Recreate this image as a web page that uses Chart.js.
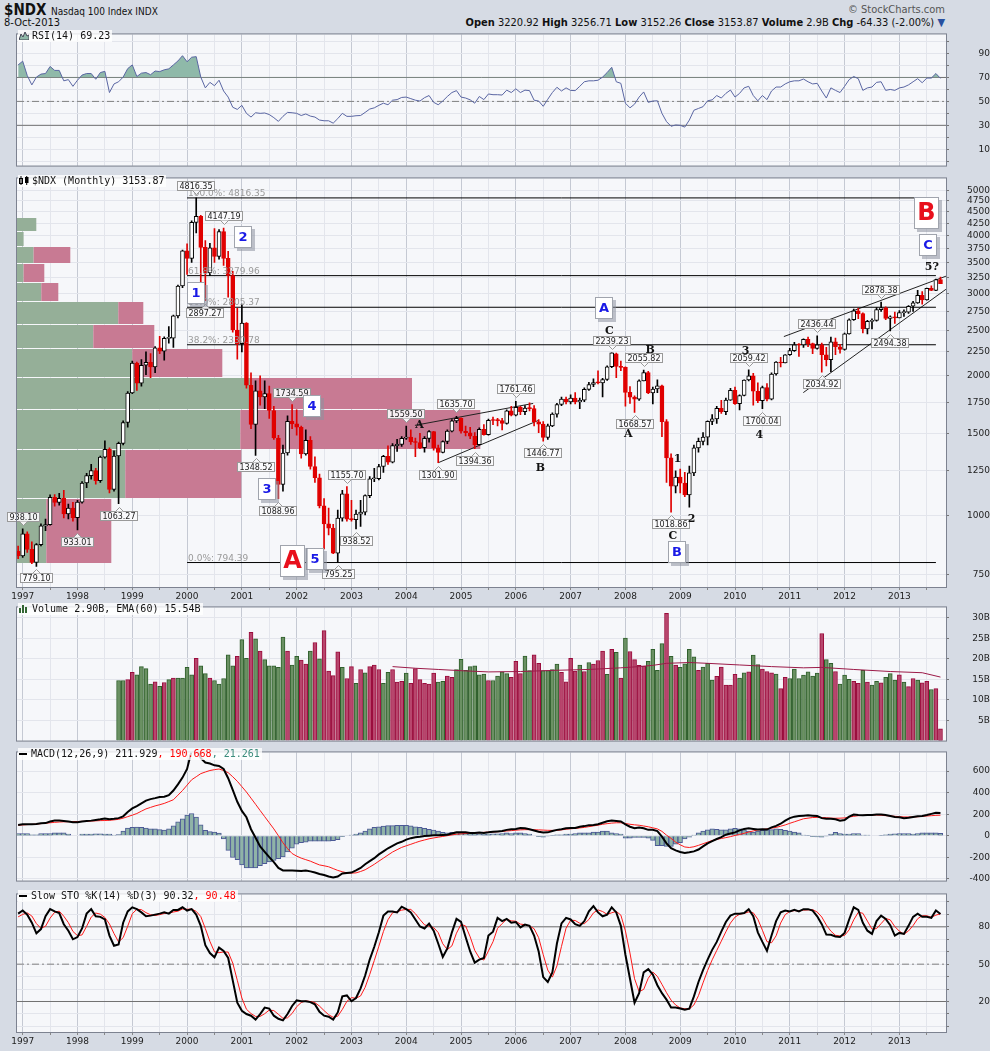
<!DOCTYPE html>
<html><head><meta charset="utf-8"><title>$NDX Nasdaq 100 Index</title>
<script src="https://cdn.jsdelivr.net/npm/chart.js@4.4.1/dist/chart.umd.min.js"></script>
<style>
html,body{margin:0;padding:0}
body{width:990px;height:1051px;background:#d6dbe4;position:relative;overflow:hidden}
canvas{position:absolute;left:0}
.hd{position:absolute;white-space:nowrap;color:#111;font-family:"Liberation Sans Narrow","DejaVu Sans Condensed",sans-serif}
.leg{position:absolute;left:18px;white-space:nowrap;font:10px "DejaVu Sans Mono",monospace;color:#111;background:rgba(255,255,255,.8);line-height:12px;padding:0 2px 0 1px;z-index:5}
.leg svg{vertical-align:-1px;margin-right:3px}
</style></head>
<body>
<div class="hd" style="left:4px;top:2px;font-size:15px;font-weight:bold;line-height:16px">$NDX <span style="font-size:10px;font-weight:normal">Nasdaq 100 Index INDX</span></div>
<div class="hd" style="left:4px;top:17px;font-size:11px;line-height:12px">8-Oct-2013</div>
<div class="hd" style="right:45px;top:4px;font-size:11px;line-height:12px;color:#555">© StockCharts.com</div>
<div class="hd" style="right:45px;top:16px;font-size:11px;line-height:13px"><b>Open</b> 3220.92 <b>High</b> 3256.71 <b>Low</b> 3152.26 <b>Close</b> 3153.87 <b>Volume</b> 2.9B <b>Chg</b> -64.33 (-2.00%) <span style="color:#2850a0">▼</span></div>

<canvas id="cRsi"></canvas>
<canvas id="cPrice"></canvas>
<canvas id="cVol"></canvas>
<canvas id="cMacd"></canvas>
<canvas id="cSto"></canvas>

<div class="leg" style="top:30px"><svg width="10" height="9"><path d="M0 9 L2 3 L4 6 L6 1 L8 5 L10 4 L10 9 Z" fill="#8fb9a9" stroke="#445" stroke-width="1"/></svg>RSI(14) 69.23</div>
<div class="leg" style="top:175px"><svg width="10" height="9"><rect x="0.5" y="2.5" width="3" height="5" fill="#fff" stroke="#000"/><line x1="2" y1="0" x2="2" y2="9" stroke="#000"/><rect x="6" y="1" width="3.5" height="6" fill="#000"/><line x1="7.7" y1="0" x2="7.7" y2="9" stroke="#000"/></svg>$NDX (Monthly) 3153.87</div>
<div class="leg" style="top:603px"><svg width="10" height="9"><rect x="0" y="4" width="2" height="5" fill="#336633"/><rect x="3" y="1" width="2" height="8" fill="#336633"/><rect x="6" y="3" width="2" height="6" fill="#336633"/></svg>Volume 2.90B, EMA(60) 15.54B</div>
<div class="leg" style="top:748px"><svg width="9" height="9"><rect x="0" y="4" width="8" height="2" fill="#000"/></svg>MACD(12,26,9) 211.929<span style="color:#f00">, 190.668</span><span style="color:#3c8c7c">, 21.261</span></div>
<div class="leg" style="top:890px"><svg width="9" height="9"><rect x="0" y="4" width="8" height="2" fill="#000"/></svg>Slow STO %K(14) %D(3) 90.32<span style="color:#f00">, 90.48</span></div>

<script>
// ---------------- DATA (monthly, index 0 = Dec 1996 ... 202 = Oct 2013) ----------------
const years = ['1997','1998','1999','2000','2001','2002','2003','2004','2005','2006','2007','2008','2009','2010','2011','2012','2013'];

const opens = [840,
821,916,848,795,868,952,958,1097,1069,1091,1010,1040,
991,1071,1177,1221,1251,1191,1337,1390,1140,1345,1432,1587,
1836,2128,1927,2106,2137,2090,2297,2257,2406,2408,2688,3116,
3708,3570,4267,4398,3773,3324,3764,3609,4078,3571,3282,2507,
2342,2593,1908,1573,1855,1800,1830,1684,1470,1168,1365,1596,
1577,1550,1359,1453,1277,1208,1051,962,942,832,989,1116,
984,982,1009,1019,1106,1202,1202,1277,1342,1304,1416,1424,
1468,1476,1442,1438,1402,1467,1517,1400,1369,1445,1521,1600,
1621,1520,1509,1483,1422,1534,1494,1605,1603,1602,1579,1682,
1645,1710,1675,1704,1700,1592,1575,1475,1561,1654,1735,1782,
1757,1790,1757,1772,1870,1915,1934,1930,1963,2091,2228,2093,
2085,1842,1799,1782,1950,2032,1837,1873,1902,1594,1333,1158,
1212,1176,1109,1237,1400,1446,1477,1596,1616,1702,1675,1773,
1860,1741,1814,1958,2000,1852,1769,1887,1781,2017,2140,2130,
2218,2264,2330,2328,2395,2344,2290,2330,2218,2165,2366,2308,
2278,2460,2638,2755,2718,2521,2616,2630,2773,2799,2655,2677,
2661,2731,2739,2819,2867,2975,2910,3079,3049,3218];

const highs = [862,
938.1,925,880,872,962,985,1110,1112,1118,1135,1060,1070,
1080,1185,1235,1290,1265,1345,1450,1400,1380,1440,1600,1850,
2150,2140,2165,2250,2230,2310,2430,2425,2550,2700,3130,3720,
3840,4300,4816.35,4420,3900,3850,4140,4120,4147.19,3700,3350,2790,
2850,2600,2030,1950,2000,1950,1900,1720,1490,1420,1640,1734.59,
1690,1560,1530,1480,1340,1230,1090,1040,960,1030,1135,1155.7,
1080,1030,1080,1110,1215,1265,1290,1350,1415,1430,1460,1480,
1559.5,1530,1470,1505,1480,1525,1520,1420,1450,1530,1610,1635.7,
1625,1560,1550,1510,1545,1570,1615,1630,1620,1620,1690,1720,
1761.46,1720,1725,1750,1725,1610,1595,1575,1665,1745,1800,1800,
1820,1840,1790,1885,1935,1970,2050,1975,2100,2239.23,2236,2150,
2090,1895,1810,1960,2055.82,2045,1890,1960,1910,1610,1360,1250,
1260,1240,1280,1420,1470,1510,1600,1650,1720,1770,1790,1880,
1890,1820,1960,2059.42,2025,1930,1900,1925,2030,2145,2190,2220,
2290,2360,2345,2400,2420,2350,2436.44,2350,2300,2420,2410,2335,
2470,2650,2780,2790,2730,2630,2650,2800,2878.38,2810,2690,2740,
2760,2770,2830,2890,3050,3030,3085,3120,3225,3256.71];

const lows = [810,
815,835,790,779.1,862,930,955,1050,1055,990,985,975,
933.01,1065,1150,1200,1170,1180,1330,1120,1130,1063.27,1420,1550,
1830,1860,1900,2010,1980,2030,2230,2160,2350,2300,2660,3090,
3300,3500,4050,3100,2897.27,3280,3500,3560,3450,2950,2480,2170,
2250,1880,1540,1348.52,1730,1700,1620,1460,1088.96,1130,1350,1540,
1490,1330,1350,1260,1180,1040,850,910,830,795.25,975,975,
975,938.52,950,1005,1095,1185,1195,1240,1290,1300,1375,1410,
1460,1425,1340,1395,1370,1440,1385,1301.9,1365,1430,1515,1585,
1505,1485,1465,1394.36,1420,1490,1490,1570,1560,1530,1575,1640,
1640,1650,1650,1680,1560,1510,1446.77,1460,1555,1630,1725,1740,
1740,1740,1700,1760,1860,1895,1920,1800,1955,2080,1980,2050,
1720,1745,1668.57,1770,1950,1830,1740,1840,1480,1180,1018.86,1120,
1120,1100,1043.87,1220,1370,1420,1420,1570,1580,1660,1650,1770,
1735,1690,1810,1950,1730,1750,1700.04,1765,1775,2005,2090,2130,
2210,2255,2200,2300,2310,2230,2280,2034.92,2100,2040,2220,2235,
2270,2455,2630,2650,2470,2460,2520,2620,2750,2640,2494.38,2590,
2660,2680,2720,2750,2860,2850,2905,3045,3045,3152.26];

const closes = [821,
916,848,795,868,952,958,1097,1069,1091,1010,1040,991,
1071,1177,1221,1251,1191,1337,1390,1140,1345,1432,1587,1836,
2128,1927,2106,2137,2090,2297,2257,2406,2408,2688,3116,3708,
3570,4267,4398,3773,3324,3764,3609,4078,3571,3282,2507,2342,
2593,1908,1573,1855,1800,1830,1684,1470,1168,1365,1596,1577,
1550,1359,1453,1277,1208,1051,962,942,832,989,1116,984,
982,1009,1019,1106,1202,1202,1277,1342,1304,1416,1424,1468,
1476,1442,1438,1402,1467,1517,1400,1369,1445,1521,1600,1621,
1520,1509,1483,1422,1534,1494,1605,1603,1602,1579,1682,1645,
1710,1675,1704,1700,1592,1575,1475,1561,1654,1735,1782,1757,
1790,1757,1772,1870,1915,1934,1930,1963,2091,2239,2093,2085,
1842,1799,1782,1950,2032,1837,1873,1902,1594,1333,1158,1212,
1176,1109,1237,1400,1446,1477,1596,1616,1702,1675,1773,1860,
1741,1814,1958,2000,1852,1769,1887,1781,2017,2140,2130,2218,
2264,2330,2328,2395,2344,2290,2330,2218,2165,2366,2308,2278,
2460,2638,2755,2718,2521,2616,2630,2773,2799,2655,2677,2661,
2731,2739,2819,2867,2975,2910,3079,3049,3218,3153.87];

// Volume in billions (starts Oct 1998)
const volume = [null,null,null,null,null,null,null,null,null,null,null,null,null,null,null,null,null,null,null,null,null,null,
14.7,14.7,14.9,16.7,16.1,18.1,17.6,13.8,14.4,13.3,14.2,14.9,15.3,15.3,15.3,
17.9,16.1,20.1,18.3,16.4,15.3,14.7,13.8,15.2,21.0,18.3,20.6,
24.7,20.1,26.5,24.9,21.9,19.8,18.3,18.3,17.9,25.3,21.9,18.5,
20.6,19.7,18.7,21.9,24.0,20.0,26.9,17.0,15.9,21.7,17.9,15.2,
18.1,14.0,17.4,16.6,18.1,18.5,17.4,14.0,16.7,17.4,14.3,14.5,
16.5,14.0,17.6,14.9,14.0,13.8,16.5,14.3,14.5,15.8,15.5,17.4,
19.9,17.2,18.1,18.3,16.1,16.3,14.7,14.7,15.8,16.8,16.4,15.5,
19.4,16.4,20.7,17.1,21.0,18.9,17.1,17.1,17.4,18.7,16.7,14.4,
20.1,17.0,18.5,16.9,19.1,18.7,19.6,21.9,16.2,22.3,21.6,15.3,
25.1,21.8,19.8,18.4,18.2,19.4,22.3,17.2,23.7,31.1,20.6,18.5,
17.9,18.8,22.3,20.5,17.2,18.0,18.9,14.8,15.7,18.0,13.6,13.6,
16.2,15.3,16.6,16.8,20.9,18.6,17.5,16.9,16.6,16.3,12.7,15.5,
15.2,17.5,15.2,16.0,16.8,15.8,16.5,26.2,19.8,18.9,16.9,13.8,
16.0,15.0,14.5,14.0,17.2,14.3,13.6,14.5,14.1,15.5,16.4,14.8,
16.1,14.3,13.2,15.2,14.8,14.1,14.5,12.5,12.7,2.9];

const volEmaIdx = [82,87,92,97,103,110,118,125,132,136,139,142,147,151,158,165,172,176,183,191,198,202];
const volEma    = [18.1,17.7,17.4,17.1,16.8,16.9,17.2,17.4,17.8,18.1,18.4,18.9,19.1,18.9,18.5,18.1,17.8,17.9,17.4,16.9,16.6,15.54];

const rsi = [80.5,83.6,71.6,63.8,70.3,72.8,73.3,79.2,75.9,75.9,
67.2,68.2,62.6,67.7,72.0,73.3,73.3,68.5,74.1,75.1,
57.4,64.6,66.4,70.3,77.4,80.5,70.8,73.6,74.1,72.3,
75.4,74.9,76.4,77.2,80.5,83.8,88.2,83.1,86.9,87.4,
70.3,61.3,65.9,63.1,67.7,58.7,53.6,45.1,43.3,46.7,
40.0,36.9,40.5,40.0,40.3,39.0,36.4,33.3,37.5,40.8,
40.5,40.0,38.2,39.5,37.7,36.9,34.4,33.8,33.8,31.8,
35.6,40.0,37.5,37.5,38.0,38.2,40.8,43.6,44.6,46.7,
48.5,47.2,51.0,51.5,53.3,53.6,52.3,51.0,50.3,53.1,
54.9,49.2,47.2,50.3,54.1,57.4,59.0,53.6,52.8,51.3,
48.5,54.1,51.5,56.2,55.6,55.6,55.3,59.4,57.4,60.5,
57.4,59.4,59.0,51.0,50.3,45.9,51.8,57.4,61.8,58.7,
61.3,59.2,59.0,62.6,66.4,67.2,67.2,67.7,70.3,74.1,
78.5,66.4,65.1,48.5,44.6,47.7,53.6,57.9,49.2,50.3,
50.5,40.0,33.1,29.2,30.3,30.0,28.5,34.4,42.6,44.1,
45.6,50.5,51.3,54.9,52.8,56.7,59.5,53.6,56.7,61.3,
62.6,54.9,50.5,54.9,51.5,58.7,62.0,62.0,64.6,66.4,
67.2,67.2,68.7,66.4,64.6,65.1,58.7,52.8,61.3,59.2,
57.4,62.6,68.2,70.8,69.0,59.2,61.3,62.0,65.9,66.4,
59.2,60.0,59.2,61.3,62.0,63.8,66.4,69.0,65.6,69.5,
69.5,73.3,69.23];

const macd = [100,106,106,106,109,115,117,132,140,140,
137,132,126,126,132,137,140,146,152,160,
152,157,163,180,220,254,274,300,326,340,
349,360,363,377,420,477,540,620,790,820,
720,680,671,654,649,620,534,425,315,230,
171,60,-20,-100,-150,-200,-245,-300,-323,-323,
-323,-326,-329,-323,-332,-343,-357,-366,-380,-389,
-380,-352,-346,-343,-323,-300,-266,-237,-209,-174,
-146,-117,-94,-71,-57,-37,-23,-14,-9,-3,
0,3,3,6,9,20,31,31,31,26,
26,29,26,31,37,40,43,54,60,63,
71,69,60,49,37,29,31,43,54,60,
69,71,71,83,89,97,100,106,120,134,
140,137,132,106,83,69,77,69,54,54,
43,-9,-71,-117,-137,-152,-160,-154,-146,-129,
-100,-71,-51,-31,-14,9,20,31,49,63,
69,63,57,60,57,77,91,111,140,163,
177,183,186,189,186,183,163,157,157,152,
140,146,177,197,192,189,192,192,197,197,
192,183,174,172,163,166,174,180,183,192,
203,214,211.929];

const macdSignal = [97,100,103,105,108,112,116,120,124,127,
129,130,131,132,133,134,136,138,140,141,
143,147,152,163,177,191,206,228,249,263,
277,288,300,317,334,377,420,470,520,548,
577,592,606,614,620,606,586,548,506,456,
406,349,292,234,177,120,63,0,-66,-120,
-166,-190,-209,-223,-237,-255,-272,-280,-289,-306,
-323,-335,-346,-348,-346,-333,-317,-292,-266,-237,
-209,-180,-152,-130,-109,-94,-80,-65,-51,-40,
-29,-21,-14,-7,0,7,14,17,20,23,
26,28,31,33,34,37,40,44,47,51,
54,56,56,55,54,52,50,49,49,54,
60,64,68,72,77,84,91,98,106,112,
117,120,120,113,106,101,97,90,83,73,
63,40,5,-25,-60,-85,-105,-110,-103,-90,
-75,-60,-45,-35,-26,-18,-9,2,11,22,
34,44,54,58,63,70,77,88,100,115,
129,143,157,163,169,170,169,167,163,162,
163,165,174,180,186,188,192,192,192,190,
186,184,180,177,174,174,174,176,180,183,
186,189,190.668];

const macdHist = [20,20,20,9,9,20,20,20,26,26,
26,14,0,0,14,14,14,17,17,14,
14,6,11,43,71,77,80,77,71,63,
63,57,51,63,91,129,157,191,206,172,
100,50,37,34,25,-30,-137,-203,-223,-272,
-300,-300,-300,-280,-260,-243,-229,-214,-197,-152,
-117,-80,-66,-60,-51,-51,-51,-51,-51,-46,
-37,-9,0,6,14,26,43,63,77,83,
89,94,94,97,97,97,91,83,77,69,
60,51,43,31,26,31,34,34,26,20,
20,17,14,14,17,17,20,26,20,26,
26,20,14,0,-9,-14,-3,3,9,9,
14,14,20,26,26,26,34,34,43,43,
26,20,14,-23,-23,-17,-17,-17,-23,-43,
-94,-94,-100,-100,-80,-66,-31,-14,6,26,
43,54,63,60,54,54,63,69,63,54,
43,34,43,49,54,57,63,60,49,43,
34,26,6,3,-9,-11,-14,-3,14,31,
20,14,14,20,20,6,6,0,0,3,
9,14,17,20,20,20,14,20,26,26,
26,26,21.261];

const stoK = [90.6,93.1,89.8,83.3,74.8,78.2,88.5,94.2,92.4,91.1,
82.1,76.9,70,71.8,78.7,90.6,94.2,88.5,88,85.9,
73,64.8,65.8,83.3,92.4,95.7,94.2,91.6,88.5,89,
89.8,90.6,91.6,90.6,93.6,93.6,95.7,93.1,94.2,89.8,
80.8,65.3,58.9,55.5,63.3,60.7,55,37,19,12.5,
9.9,8.6,5.5,9.9,15.1,14.3,8.6,6.1,4.8,9.9,
16.4,21,20.2,20.2,19.5,17.7,11.7,8.6,7.8,5.5,
11.2,24.1,24.9,20.2,22.8,30.6,40.9,53.7,64,75.6,
89,92.4,92.4,91.6,96.2,94.2,91.6,85.9,80.3,78.7,
82.6,76.9,66.6,55.8,62.7,75.6,86.4,83.9,71.8,60.2,
51.2,53.7,55,73,76.1,87.2,84.6,86.4,83.3,83.9,
79.5,81.8,80.8,73,60.2,39.6,35.7,43.4,66.6,82.8,
87.2,85.9,82.1,80.8,84.6,92.4,96.7,91.6,88.5,89.8,
95.7,91.6,80.8,57.6,38.3,19,26.7,43.4,46,41.6,
33.1,26.7,21.5,15.1,15.1,14.3,13.3,14.3,24.1,35.7,
45.2,53.7,61.5,67.9,76.1,83.9,89,90.6,90.6,91.1,
94.2,88.5,75.6,67.9,60.7,73,84.6,91.6,93.1,92.4,
93.6,92.4,94.2,94.2,93.1,88.5,82.1,73.8,73.6,72.3,
71.8,75.1,85.9,95.7,93.6,83.3,76.9,74.3,84.6,89,
86.4,81.3,73,75.1,74.3,80.8,88,90.6,88,88,
87.2,93.1,90.32];

const stoD = [88,90,91.2,88.7,82.6,78.8,80.5,87,91.7,92.6,
88.5,83.4,76.3,72.9,73.5,80.4,87.8,91.1,90.2,87.5,
82.3,74.6,67.9,71.3,80.5,90.5,94.1,93.8,91.4,89.7,
89.1,89.8,90.7,90.9,91.9,92.6,94.3,94.1,94.3,92.4,
88.3,78.6,68.3,59.9,59.2,59.8,59.7,50.9,37,22.8,
13.8,10.3,8,8,10.2,13.1,12.7,9.7,6.5,6.9,
10.4,15.8,19.2,20.5,20,19.1,16.3,12.7,9.4,7.3,
8.2,13.6,20.1,23.1,22.6,24.5,31.4,41.7,52.9,64.4,
76.2,85.7,91.3,92.1,93.4,94,94,90.6,85.9,81.6,
80.5,79.4,75.4,66.4,61.7,64.7,74.9,82,80.7,72,
61.1,55,53.3,60.6,68,78.8,82.6,86.1,84.8,84.5,
82.2,81.7,80.7,78.5,71.3,57.6,45.2,39.6,48.6,64.3,
78.9,85.3,85.1,82.9,82.5,85.9,91.2,93.6,92.3,90,
91.3,92.4,89.4,76.7,58.9,38.3,28,29.7,38.7,43.7,
40.2,33.8,27.1,21.1,17.2,14.8,14.2,14,17.2,24.7,
35,44.9,53.5,61,68.5,76,83,87.8,90.1,90.8,
92,91.3,86.1,77.3,68.1,67.2,72.8,83.1,89.8,92.4,
93,92.8,93.4,93.6,93.8,91.9,87.9,81.5,76.5,73.2,
72.6,73.1,77.6,85.6,91.7,90.9,84.6,78.2,78.6,82.6,
86.7,85.6,80.2,76.5,74.1,76.7,81,86.5,88.9,88.9,
87.7,89.4,90.48];

// Volume-by-price zones (price bands, up/down volume in relative units)
const vbpLow  = [4096,3797,3495,3185,2890,2583,2292,1990,1694,1393,1092,791];
const vbpHigh = [4385,4096,3797,3495,3185,2890,2583,2292,1990,1694,1393,1092];
const vbpUp   = [19.3,6.6,16.6,6.6,24.3,101.3,76.3,115.3,235,223.3,108.3,29.3];
const vbpDown = [0,0,36.7,20.7,17,25,61,90,160,240,116,65];

// Fibonacci retracement levels
const fibLevels = [4816.35,3279.96,2805.37,2330.78,794.39];
const fibTexts  = ['100.0%: 4816.35','61.8%: 3279.96','50.0%: 2805.37','38.2%: 2330.78','0.0%: 794.39'];
const fibStart = 37, fibEnd = 201;

// Trend lines: [x1, price1, x2, price2]
const trendLines = [[86.9,1565,112.8,1744],[92.0,1301,113.9,1603],[167.7,2427,203.2,3271],[171.96,1840,203.2,3066]];

// Value callouts: month index, price, above/below
const calloutIdx   = [1,4,13,22,39,45,41,52,57,60,70,72,74,85,92,96,100,109,115,130,135,137,143,160,163,175,176,189,191];
const calloutPrice = [938.10,779.10,933.01,1063.27,4816.35,4147.19,2897.27,1348.52,1088.96,1734.59,795.25,1155.70,938.52,1559.50,1301.90,1635.70,1394.36,1761.46,1446.77,2239.23,1668.57,2055.82,1018.86,2059.42,1700.04,2436.44,2034.92,2878.38,2494.38];
const calloutPos   = ['a','b','b','b','a','a','b','b','b','a','b','a','b','a','b','a','b','a','b','a','b','a','b','a','b','a','b','a','b'];

// Elliott wave boxes: text, month index, price, style
const waveBoxes = [['1',38.95,3012,'b'],['2',49.25,3967,'b'],['3',54.4,1141,'b'],['4',64.25,1719,'b'],['5',65.0,807,'b'],
  ['A',60.1,799,'R'],['A',128.4,2800,'b'],['B',198.9,4461,'R'],['C',199.2,3816,'b'],['B',144.2,837,'b']];
// Plain wave labels
const waveTexts = [['A',87.9,1564],['B',114.4,1266],['C',129.5,2494],['B',138.4,2273],['A',133.6,1497],['1',144.4,1325],['2',147.5,984],['C',143.4,903],['3',159.3,2255],['4',162.3,1490],['5?',200.1,3424]];

const priceTicks = [750,1000,1250,1500,1750,2000,2250,2500,2750,3000,3250,3500,3750,4000,4250,4500,4750,5000];

// ---------------- sanity ----------------
[opens,highs,lows,closes,volume,rsi,macd,macdSignal,macdHist,stoK,stoD].forEach((a,k)=>{ if(a.length!==203) throw new Error('array '+k+' length '+a.length); });

// ---------------- helpers ----------------
const X_MIN = -0.248, X_MAX = 203.21;
const FONT = 'DejaVu Sans';

const framePlugin = { id:'frame',
  beforeDraw(c){ const a=c.chartArea, ctx=c.ctx; ctx.save(); ctx.fillStyle='#f6f7fa'; ctx.fillRect(a.left,a.top,a.right-a.left,a.bottom-a.top); ctx.restore(); },
  afterDraw(c){ const a=c.chartArea, ctx=c.ctx; ctx.save(); ctx.strokeStyle='#7d8290'; ctx.lineWidth=1; ctx.strokeRect(a.left-0.5,a.top-0.5,a.right-a.left+1,a.bottom-a.top+1); ctx.restore(); }
};

function xScale(showLabels){
  return { type:'linear', min:X_MIN, max:X_MAX, position:'bottom', offset:false,
    afterBuildTicks(s){ const t=[]; for(let v=1; v<=X_MAX; v+=6) t.push({value:v}); s.ticks=t; },
    afterFit(s){ s.height = showLabels ? 15 : 0; },
    border:{display:false},
    grid:{ offset:false, color:c => (c.tick && (c.tick.value-1)%12===0) ? '#c5c9d3' : '#e3e5ec', drawTicks:showLabels, tickLength:3, tickColor:'#888' },
    ticks:{ display:showLabels, autoSkip:false, maxRotation:0, padding:1, color:'#222', font:{family:FONT,size:9},
      callback:v => ((v-1)%12===0) ? years[(v-1)/12] : '' }
  };
}
function yAxis(min,max,tickVals,labelFn,extra){
  return Object.assign({ position:'right', min, max,
    afterFit(s){ s.width = 44; },
    afterBuildTicks(s){ s.ticks = tickVals.map(v=>({value:v})); },
    border:{display:false},
    grid:{ color:'#e3e5ec', tickLength:3, tickColor:'#777' },
    ticks:{ color:'#222', padding:1, crossAlign:'far', autoSkip:false, font:{family:FONT,size:9}, callback:v=>labelFn(v) }
  }, extra||{});
}
function refLine(v,color,dash){
  return { type:'line', data:[{x:X_MIN,y:v},{x:X_MAX,y:v}], borderColor:color, borderWidth:1, borderDash:dash||[], pointRadius:0, order:20, xAxisID:'x', yAxisID:'y' };
}
function makeChart(id, areaTop, areaBottom, withLabels, cfg){
  const cv = document.getElementById(id);
  const h = (areaBottom-areaTop+1) + (withLabels ? 15 : 1);
  cv.width = 990; cv.height = h;
  cv.style.width = '990px'; cv.style.height = h+'px'; cv.style.top = (areaTop-1)+'px';
  cfg.options = Object.assign({ responsive:false, animation:false, devicePixelRatio:1,
    layout:{padding:{left:17,right:0,top:1,bottom:withLabels?0:1}},
    plugins:{legend:{display:false}, tooltip:{enabled:false}} }, cfg.options);
  cfg.plugins = (cfg.plugins||[]).concat([framePlugin]);
  return new Chart(cv, cfg);
}
const seq = a => a.map((v,i)=> v===null ? null : {x:i, y:v}).filter(p=>p);
const upCandle = closes.map((c,i)=> c >= opens[i]);
const upMonth = closes.map((c,i)=> i===0 ? true : c >= closes[i-1]);

// ---------------- RSI ----------------
makeChart('cRsi', 29, 171, false, {
  type:'line',
  data:{ datasets:[
    { data:seq(rsi), borderColor:'#5a66a3', borderWidth:1, pointRadius:0, order:1,
      fill:{ target:{value:70}, above:'#8fb9a9', below:'rgba(0,0,0,0)' } },
    refLine(70,'#707070'), refLine(30,'#707070'), refLine(50,'#808080',[7,3,2,3])
  ]},
  options:{ scales:{ x:xScale(false), y:yAxis(-3.67,106,[0,10,20,30,40,50,60,70,80,90,100], v=>[10,30,50,70,90].includes(v)?String(v):'') } }
});

// ---------------- PRICE ----------------
const priceAnnot = { id:'priceAnnot',
  beforeDatasetsDraw(c){
    const {ctx, scales:{y, xv}} = c;
    ctx.save();
    for(let k=0;k<vbpLow.length;k++){
      const yt = Math.round(y.getPixelForValue(vbpHigh[k])), yb = Math.round(y.getPixelForValue(vbpLow[k]));
      const x0 = xv.getPixelForValue(0), xg = xv.getPixelForValue(vbpUp[k]), xr = xv.getPixelForValue(vbpUp[k]+vbpDown[k]);
      ctx.fillStyle='#95af98'; ctx.fillRect(x0, yt+1, xg-x0, yb-yt-1);
      ctx.fillStyle='#c87a93'; ctx.fillRect(xg, yt+1, xr-xg, yb-yt-1);
    }
    ctx.restore();
  },
  afterDatasetsDraw(c){
    const {ctx, scales:{x, y}} = c;
    ctx.save();
    ctx.font = '9px "'+FONT+'"'; ctx.fillStyle='#9a9a9a'; ctx.textAlign='left'; ctx.textBaseline='alphabetic';
    fibLevels.forEach((p,k)=> ctx.fillText(fibTexts[k], x.getPixelForValue(fibStart)+1, y.getPixelForValue(p)-2));
    ctx.font = '8px "'+FONT+'"'; ctx.textAlign='center'; ctx.textBaseline='middle';
    calloutIdx.forEach((i,k)=>{
      const t = calloutPrice[k].toFixed(2);
      const px = Math.round(x.getPixelForValue(i)), py = y.getPixelForValue(calloutPrice[k]);
      const w = Math.round(ctx.measureText(t).width)+5, h = 10;
      const bx = Math.round(px - w/2);
      const above = calloutPos[k]==='a';
      const by = above ? Math.round(py - 7 - h) : Math.round(py + 7);
      ctx.fillStyle='rgba(250,250,252,0.92)'; ctx.fillRect(bx,by,w,h);
      ctx.strokeStyle='#999'; ctx.lineWidth=1; ctx.strokeRect(bx+0.5,by+0.5,w-1,h-1);
      ctx.beginPath();
      if(above){ ctx.moveTo(px-3.5,by+h-0.5); ctx.lineTo(px+0.5,by+h+3.5); ctx.lineTo(px+4.5,by+h-0.5); }
      else { ctx.moveTo(px-3.5,by+0.5); ctx.lineTo(px+0.5,by-3.5); ctx.lineTo(px+4.5,by+0.5); }
      ctx.fillStyle='rgba(250,250,252,0.92)'; ctx.fill(); ctx.stroke();
      ctx.fillStyle='#222'; ctx.fillText(t, bx+w/2, by+h/2+0.5);
    });
    waveBoxes.forEach(([t,i,p,s])=>{
      const cx = x.getPixelForValue(i), cy = y.getPixelForValue(p);
      const big = s==='R'; const w = big?25:18, h = big?32:22;
      const bx = Math.round(cx-w/2), by = Math.round(cy-h/2);
      ctx.fillStyle='rgba(140,146,158,0.55)'; ctx.fillRect(bx+3,by+3,w,h);
      ctx.fillStyle='#fff'; ctx.fillRect(bx,by,w,h);
      ctx.strokeStyle='#a0a4ad'; ctx.strokeRect(bx+0.5,by+0.5,w-1,h-1);
      ctx.fillStyle = big ? '#e8101c' : '#1a1ae6';
      ctx.font = 'bold '+(big?24:13)+'px "'+FONT+'"'; ctx.textAlign='center'; ctx.textBaseline='middle';
      ctx.fillText(t, bx+w/2, by+h/2+1);
    });
    ctx.fillStyle='#111'; ctx.font='bold 11px "DejaVu Serif"'; ctx.textAlign='center'; ctx.textBaseline='middle';
    waveTexts.forEach(([t,i,p])=> ctx.fillText(t, x.getPixelForValue(i), y.getPixelForValue(p)));
    ctx.restore();
  }
};
const priceDatasets = [];
fibLevels.forEach(p=> priceDatasets.push({ type:'line', data:[{x:fibStart,y:p},{x:fibEnd,y:p}], borderColor:'#000', borderWidth:1, pointRadius:0, order:30, xAxisID:'x', yAxisID:'y' }));
trendLines.forEach(t=> priceDatasets.push({ type:'line', data:[{x:t[0],y:t[1]},{x:t[2],y:t[3]}], borderColor:'#222', borderWidth:1, pointRadius:0, order:30, xAxisID:'x', yAxisID:'y' }));
priceDatasets.push({ type:'bar', data:closes.map((c,i)=>({x:i, y:[lows[i],highs[i]]})),
  backgroundColor:upCandle.map(u=>u?'#000':'#e00000'), borderWidth:0, barThickness:1, grouped:false, order:10, xAxisID:'x', yAxisID:'y' });
priceDatasets.push({ type:'bar', data:closes.map((c,i)=>({x:i, y:[opens[i],c]})),
  backgroundColor:upCandle.map(u=>u?'#ffffff':'#e00000'), borderColor:upCandle.map(u=>u?'#000':'#e00000'),
  borderWidth:1, borderSkipped:false, barThickness:4, minBarLength:1, grouped:false, order:5, xAxisID:'x', yAxisID:'y' });

makeChart('cPrice', 173, 587, true, {
  type:'bar',
  data:{ datasets:priceDatasets },
  options:{ scales:{
    x:xScale(true),
    y:yAxis(703.9,5304,priceTicks,v=>String(v),{type:'logarithmic'}),
    xv:{ type:'linear', position:'top', min:0, max:929, offset:false, display:true,
         afterFit(s){ s.height = 0; }, border:{display:false},
         grid:{display:false, drawTicks:false, offset:false}, ticks:{display:false} }
  }},
  plugins:[priceAnnot]
});

// ---------------- VOLUME ----------------
makeChart('cVol', 602, 746, false, {
  type:'bar',
  data:{ datasets:[
    { type:'line', data:volEmaIdx.map((ix,k)=>({x:ix,y:volEma[k]})), borderColor:'#9c1a48', borderWidth:1, pointRadius:0, order:1, xAxisID:'x', yAxisID:'y' },
    { type:'bar', data:seq(volume), backgroundColor:volume.map((v,i)=>upMonth[i]?'#6b9163':'#b8466d'),
      borderColor:volume.map((v,i)=>upMonth[i]?'#2f5f2c':'#9a0c3c'), borderWidth:1, barThickness:4, grouped:false, order:5, xAxisID:'x', yAxisID:'y' }
  ]},
  options:{ scales:{ x:xScale(false), y:yAxis(0,32.58,[5,10,15,20,25,30],v=>v+'B') } }
});

// ---------------- MACD ----------------
makeChart('cMacd', 747, 886, false, {
  type:'bar',
  data:{ datasets:[
    { type:'line', data:seq(macd), borderColor:'#000', borderWidth:2, pointRadius:0, order:1, xAxisID:'x', yAxisID:'y' },
    { type:'line', data:seq(macdSignal), borderColor:'#ff1a1a', borderWidth:1, pointRadius:0, order:2, xAxisID:'x', yAxisID:'y' },
    { type:'bar', data:seq(macdHist), backgroundColor:'#8fb3a7', borderColor:'#4b5996', borderWidth:1, barThickness:4.6, grouped:false, order:5, xAxisID:'x', yAxisID:'y' }
  ]},
  options:{ scales:{ x:xScale(false), y:yAxis(-417.7,774.4,[-400,-200,0,200,400,600],v=>String(v)) } }
});

// ---------------- SLOW STO ----------------
makeChart('cSto', 889, 1032, true, {
  type:'line',
  data:{ datasets:[
    { data:seq(stoK), borderColor:'#000', borderWidth:2, pointRadius:0, order:1 },
    { data:seq(stoD), borderColor:'#ff1a1a', borderWidth:1, pointRadius:0, order:2 },
    refLine(80,'#707070'), refLine(20,'#707070'), refLine(50,'#808080',[7,3,2,3])
  ]},
  options:{ scales:{ x:xScale(true), y:yAxis(-4.51,106.06,[0,10,20,30,40,50,60,70,80,90,100], v=>[20,50,80].includes(v)?String(v):'') } }
});
</script>
</body></html>
